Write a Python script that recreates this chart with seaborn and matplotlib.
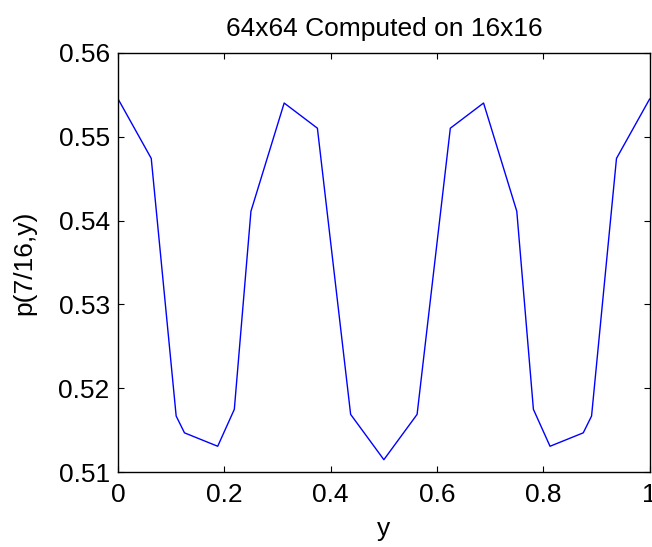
import matplotlib
matplotlib.use("Agg")
import matplotlib.pyplot as plt
import seaborn as sns
import pandas as pd

# y positions and pressure values
y_pos = [0.0, 0.0625, 0.109375, 0.125, 0.1875, 0.21875, 0.25, 0.3125, 0.375,
         0.4375, 0.5, 0.5625, 0.625, 0.6875, 0.75, 0.78125, 0.8125, 0.875,
         0.890625, 0.9375, 1.0]
p_vals = [0.5545, 0.5474, 0.5167, 0.5147, 0.5131, 0.5175, 0.5411, 0.5540, 0.5510,
          0.5169, 0.5115, 0.5169, 0.5510, 0.5540, 0.5411, 0.5175, 0.5131, 0.5147,
          0.5167, 0.5474, 0.5545]
x_ticks = [0, 0.2, 0.4, 0.6, 0.8, 1]
y_ticks = [0.51, 0.52, 0.53, 0.54, 0.55, 0.56]

df = pd.DataFrame({"y": y_pos, "p": p_vals})

sns.set_style("white")
plt.rcParams['font.family'] = ['Liberation Sans', 'DejaVu Sans']
plt.rcParams['text.color'] = 'black'
plt.rcParams['axes.labelcolor'] = 'black'
plt.rcParams['xtick.color'] = 'black'
plt.rcParams['ytick.color'] = 'black'

fig = plt.figure(figsize=(6.52, 5.47), dpi=100)
ax = fig.add_axes([0.181, 0.1366, 0.8155, 0.7671])
sns.lineplot(data=df, x="y", y="p", color="#0000ff", linewidth=1.0, ax=ax)

ax.set_xlim(0, 1)
ax.set_ylim(0.51, 0.56)
ax.set_xticks(x_ticks)
ax.set_xticklabels(["0", "0.2", "0.4", "0.6", "0.8", "1"])
ax.set_yticks(y_ticks)
ax.set_yticklabels([f"{t:.2f}" for t in y_ticks])
ax.tick_params(direction="in", length=4.5, width=0.8, labelsize=19, top=True, right=True,
               bottom=True, left=True)
ax.tick_params(axis="x", pad=8)
ax.tick_params(axis="y", pad=6)
for s in ax.spines.values():
    s.set_color("black")
    s.set_linewidth(1.0)
ax.set_xlabel("y", fontsize=19, labelpad=7)
ax.set_ylabel("p(7/16,y)", fontsize=19, labelpad=16)
ax.set_title("64x64 Computed on 16x16", fontsize=19, pad=12)

fig.savefig("out.png", dpi=100)
